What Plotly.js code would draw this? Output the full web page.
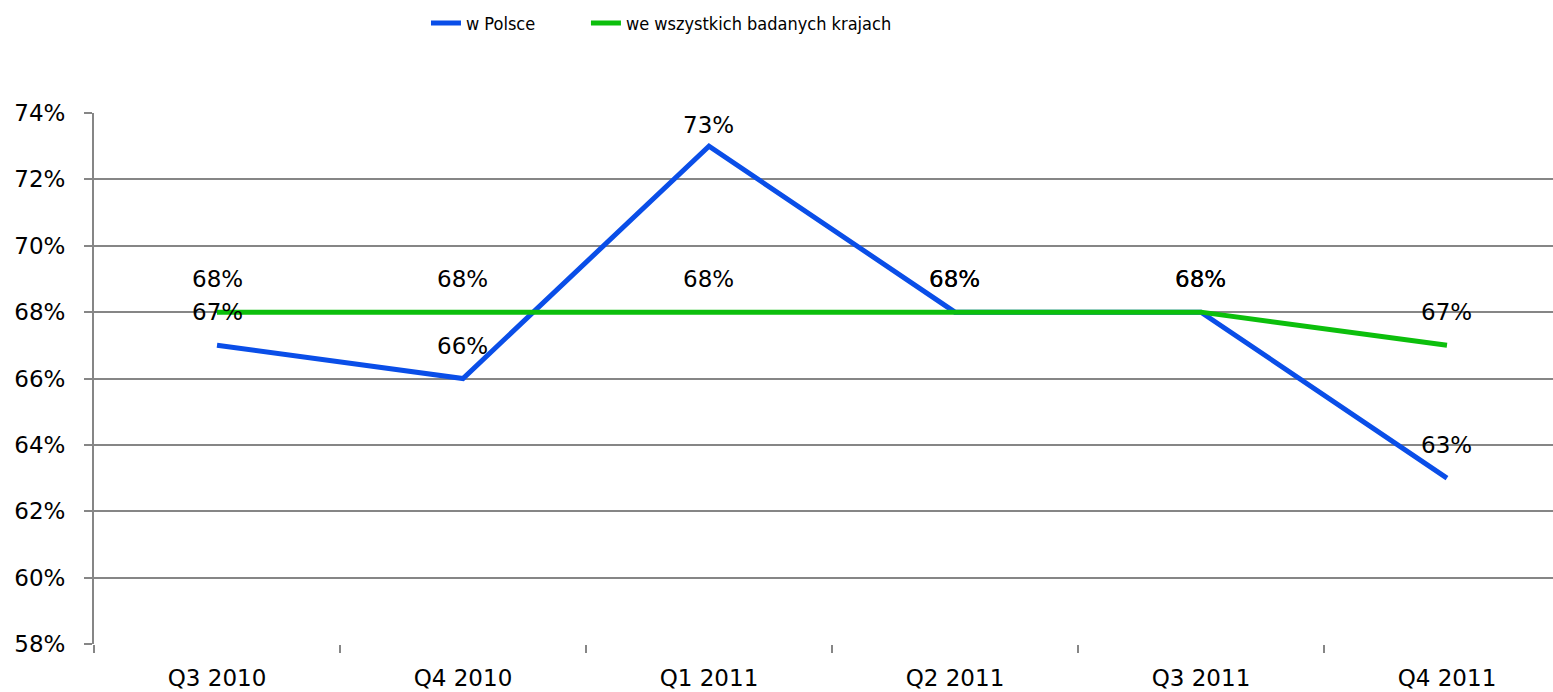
<!DOCTYPE html>
<html>
<head>
<meta charset="utf-8">
<script src="https://cdn.plot.ly/plotly-3.0.1.min.js"></script>
<style>
  html, body { margin: 0; padding: 0; background: #fff; }
  #plot { width: 1553px; height: 692px; }
</style>
</head>
<body>
<div id="plot"></div>
<script>
// Data
var quarters = ["Q3 2010", "Q4 2010", "Q1 2011", "Q2 2011", "Q3 2011", "Q4 2011"];
var poland = [67, 66, 73, 68, 68, 63];
var allCountries = [68, 68, 68, 68, 68, 67];
var yTicks = [58, 60, 62, 64, 66, 68, 70, 72, 74];

var labelFont = { family: "DejaVu Sans, Verdana, sans-serif", size: 23, color: "#000" };
var legendFont = { family: "DejaVu Sans Condensed, DejaVu Sans, sans-serif", size: 18, color: "#000" };

var trace1 = {
  x: quarters,
  y: poland,
  mode: "lines",
  type: "scatter",
  name: "w Polsce",
  legend: "legend",
  line: { color: "#0a4ee8", width: 5 },
  hoverinfo: "skip"
};

var trace2 = {
  x: quarters,
  y: allCountries,
  mode: "lines",
  type: "scatter",
  name: "we wszystkich badanych krajach",
  legend: "legend2",
  line: { color: "#0cbf0c", width: 5 },
  hoverinfo: "skip"
};

// Value labels above every point (pushed down when near the top edge)
var annotations = [];
[poland, allCountries].forEach(function (series) {
  series.forEach(function (v, i) {
    annotations.push({
      x: quarters[i],
      y: v,
      text: v + "%",
      showarrow: false,
      font: labelFont,
      yshift: v > 72 ? 21 : 33
    });
  });
});

function legendAt(x) {
  return {
    orientation: "h",
    xref: "container",
    yref: "container",
    x: x,
    y: 0.993,
    xanchor: "left",
    yanchor: "top",
    font: legendFont,
    itemwidth: 30,
    bgcolor: "rgba(0,0,0,0)"
  };
}

var layout = {
  width: 1553,
  height: 692,
  margin: { l: 94, r: 0, t: 113, b: 48 },
  paper_bgcolor: "#fff",
  plot_bgcolor: "#fff",
  showlegend: true,
  legend: legendAt(0.2743),
  legend2: legendAt(0.3773),
  xaxis: {
    type: "category",
    range: [-0.5, 5.431],
    showgrid: false,
    showline: false,
    zeroline: false,
    ticks: "outside",
    tickson: "boundaries",
    ticklen: 8,
    tickcolor: "#868686",
    tickwidth: 1.5,
    tickfont: labelFont,
    ticklabelstandoff: 18,
    fixedrange: true
  },
  yaxis: {
    range: [58, 74],
    tickvals: yTicks,
    ticktext: yTicks.map(function (t) { return t + "%"; }),
    showgrid: true,
    gridcolor: "#868686",
    gridwidth: 2,
    showline: true,
    linecolor: "#868686",
    linewidth: 2,
    zeroline: false,
    ticks: "outside",
    ticklen: 8,
    tickcolor: "#868686",
    tickwidth: 2,
    tickfont: labelFont,
    ticklabelstandoff: 14,
    fixedrange: true
  },
  annotations: annotations
};

Plotly.newPlot("plot", [trace1, trace2], layout, { displayModeBar: false, staticPlot: true });
</script>
</body>
</html>
